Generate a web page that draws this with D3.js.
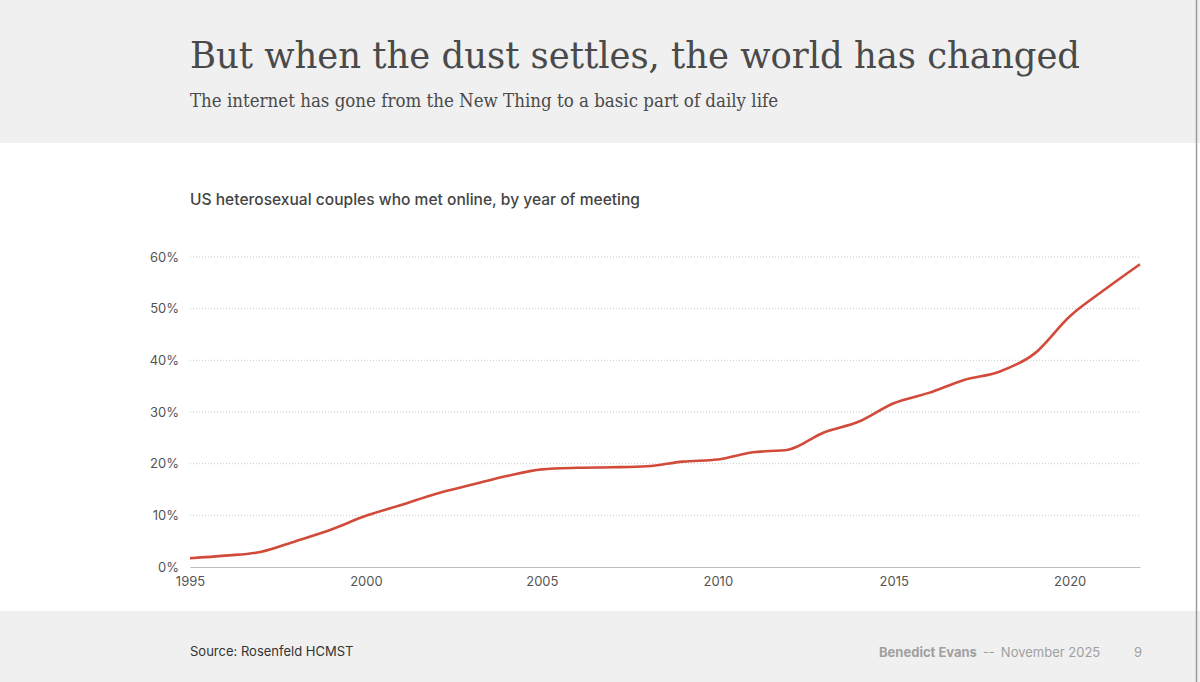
<!DOCTYPE html>
<html><head><meta charset="utf-8">
<script src="https://cdn.jsdelivr.net/npm/d3@7"></script>
<style>
html,body{margin:0;padding:0;background:#fff;}
svg{display:block;}
</style></head>
<body>
<svg id="c" width="1200" height="682"></svg>
<script>
const years = [1995,1996,1997,1998,1999,2000,2001,2002,2003,2004,2005,2006,2007,2008,2009,2010,2011,2012,2013,2014,2015,2016,2017,2018,2019,2020,2021,2022];
const metOnline = [1.7,2.2,2.9,5.0,7.2,9.9,12.0,14.2,15.9,17.6,18.9,19.2,19.3,19.5,20.4,20.8,22.2,22.7,26.0,28.1,31.7,33.7,36.2,37.8,41.3,48.5,53.7,58.6];
const yTicks = [0,10,20,30,40,50,60];
const xTicks = [1995,2000,2005,2010,2015,2020];
const titleText = "But when the dust settles, the world has changed";
const subtitleText = "The internet has gone from the New Thing to a basic part of daily life";
const chartTitle = "US heterosexual couples who met online, by year of meeting";
const sourceText = "Source: Rosenfeld HCMST";
const authorText = "Benedict Evans";
const dateText = "November 2025";
const pageNum = "9";

const svg = d3.select("#c");
const sans = "Inter, 'Noto Sans', 'Liberation Sans', sans-serif";
const serif = "'DejaVu Serif', 'Liberation Serif', serif";

// backgrounds
svg.append("rect").attr("x",0).attr("y",0).attr("width",1200).attr("height",143).attr("fill","#f0f0f0");
svg.append("rect").attr("x",0).attr("y",611).attr("width",1200).attr("height",71).attr("fill","#f0f0f0");
svg.append("line").attr("x1",1196.5).attr("x2",1196.5).attr("y1",0).attr("y2",682).attr("stroke","#9a9a9a").attr("stroke-width",1.5);

// header
svg.append("text").attr("x",190).attr("y",68).attr("font-family",serif).attr("font-stretch","condensed").attr("font-size",36.5)
  .attr("fill","#4a4a4a").attr("textLength",890).attr("lengthAdjust","spacingAndGlyphs").text(titleText);
svg.append("text").attr("x",190).attr("y",107).attr("font-family",serif).attr("font-stretch","condensed").attr("font-size",18.3)
  .attr("fill","#4a4a4a").attr("textLength",588).attr("lengthAdjust","spacingAndGlyphs").text(subtitleText);

// chart title
svg.append("text").attr("x",190).attr("y",205).attr("font-family",sans).attr("font-size",15.5).attr("font-weight",500)
  .attr("fill","#444").attr("textLength",450).attr("lengthAdjust","spacingAndGlyphs").text(chartTitle);

const x = d3.scaleLinear().domain([1995,2022]).range([190,1140]);
const y = d3.scaleLinear().domain([0,60]).range([567,257]);

// gridlines
const grid = svg.append("g");
grid.selectAll("line").data(yTicks.filter(d=>d>0)).join("line")
  .attr("x1",190).attr("x2",1140).attr("y1",d=>y(d)).attr("y2",d=>y(d))
  .attr("stroke","#c8c8c8").attr("stroke-width",1).attr("stroke-dasharray","1,2");

// y axis labels
const yAxis = svg.append("g").attr("transform","translate(190,0)")
  .call(d3.axisLeft(y).tickValues(yTicks).tickFormat(d=>d+"%").tickSize(0).tickPadding(11));
yAxis.select(".domain").remove();
yAxis.selectAll("text").attr("font-family",sans).attr("font-size",13).attr("fill","#555").attr("dy","0.32em");

// x axis
const xAxis = svg.append("g").attr("transform","translate(0,567)")
  .call(d3.axisBottom(x).tickValues(xTicks).tickFormat(d3.format("d")).tickSize(0).tickPadding(10));
xAxis.select(".domain").attr("stroke","#bdbdbd").attr("stroke-width",1.2);
xAxis.selectAll("text").attr("font-family",sans).attr("font-size",13).attr("fill","#555");

// line
const data = years.map((yr,i)=>({yr, v:metOnline[i]}));
svg.append("path").datum(data)
  .attr("d", d3.line().x(d=>x(d.yr)).y(d=>y(d.v)).curve(d3.curveMonotoneX))
  .attr("fill","none").attr("stroke","#d24a3a").attr("stroke-width",2.6).attr("stroke-linejoin","round");

// footer
svg.append("text").attr("x",190).attr("y",656).attr("font-family",sans).attr("font-size",13).attr("fill","#333").text(sourceText);
const ft = svg.append("text").attr("x",879).attr("y",657).attr("font-family",sans).attr("font-size",13).attr("fill","#a0a0a0");
ft.append("tspan").attr("font-weight",700).text(authorText);
ft.append("tspan").attr("dx",6).text("--");
ft.append("tspan").attr("dx",6).text(dateText);
svg.append("text").attr("x",1138).attr("y",657).attr("text-anchor","middle").attr("font-family",sans).attr("font-size",13).attr("fill","#a0a0a0").text(pageNum);
</script>
</body></html>
